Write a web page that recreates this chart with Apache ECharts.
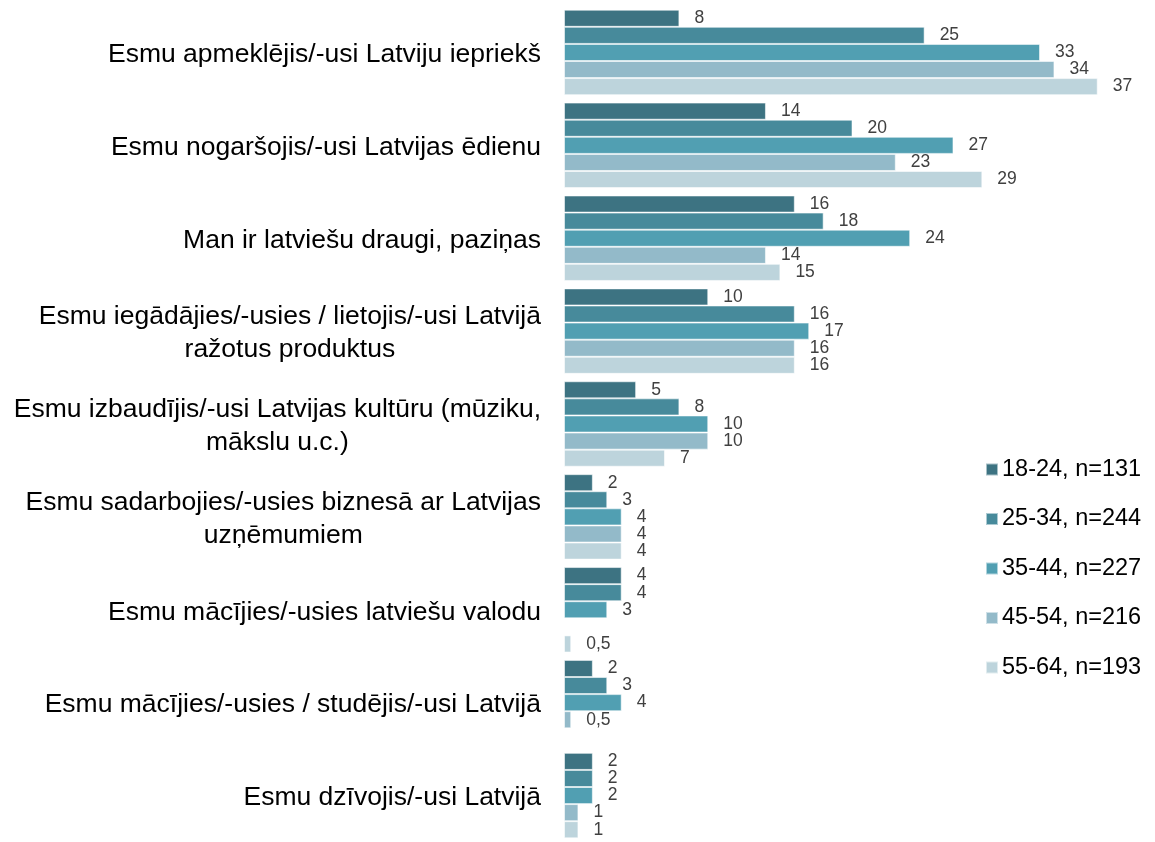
<!DOCTYPE html>
<html>
<head>
<meta charset="utf-8">
<style>
  html, body { margin: 0; padding: 0; background: #ffffff; }
  #chart { width: 1155px; height: 842px; }
</style>
<script src="https://cdn.jsdelivr.net/npm/echarts@6/dist/echarts.min.js"></script>
</head>
<body>
<div id="chart"></div>
<script>
// Categories, top to bottom
const categories = [
  'Esmu apmeklējis/-usi Latviju iepriekš',
  'Esmu nogaršojis/-usi Latvijas ēdienu',
  'Man ir latviešu draugi, paziņas',
  'Esmu iegādājies/-usies / lietojis/-usi Latvijā\nražotus produktus',
  'Esmu izbaudījis/-usi Latvijas kultūru (mūziku,\nmākslu u.c.)',
  'Esmu sadarbojies/-usies biznesā ar Latvijas\nuzņēmumiem',
  'Esmu mācījies/-usies latviešu valodu',
  'Esmu mācījies/-usies / studējis/-usi Latvijā',
  'Esmu dzīvojis/-usi Latvijā'
];

// Age groups
const seriesNames = ['18-24, n=131', '25-34, n=244', '35-44, n=227', '45-54, n=216', '55-64, n=193'];

// Values (%) per age group, in category order; null = no bar
const age18_24 = [8, 14, 16, 10, 5, 2, 4, 2, 2];
const age25_34 = [25, 20, 18, 16, 8, 3, 4, 3, 2];
const age35_44 = [33, 27, 24, 17, 10, 4, 3, 4, 2];
const age45_54 = [34, 23, 14, 16, 10, 4, null, 0.5, 1];
const age55_64 = [37, 29, 15, 16, 7, 4, 0.5, null, 1];

const colors = ['#3d7382', '#478a9b', '#519fb2', '#93bac9', '#bdd4dc'];
const seriesData = [age18_24, age25_34, age35_44, age45_54, age55_64];

const FONT = '"Liberation Sans", Arial, Helvetica, sans-serif';

const chart = echarts.init(document.getElementById('chart'), null, { renderer: 'canvas' });

chart.setOption({
  backgroundColor: '#ffffff',
  animation: false,
  color: colors,
  textStyle: { fontFamily: FONT },
  grid: { left: 564, top: 6, width: 577, height: 841, containLabel: false },
  legend: {
    orient: 'vertical',
    left: 985,
    top: 457.5,
    padding: 0,
    icon: 'rect',
    itemWidth: 12,
    itemHeight: 12,
    itemGap: 25.5,
    textStyle: { fontSize: 23.5, color: '#000000', fontFamily: FONT, padding: [0, 0, 0, -1] },
    data: seriesNames
  },
  xAxis: {
    type: 'value',
    min: 0,
    max: 40,
    show: false
  },
  yAxis: {
    type: 'category',
    inverse: true,
    data: categories,
    axisLine: { show: false },
    axisTick: { show: false },
    splitLine: { show: false },
    axisLabel: {
      margin: 23,
      color: '#000000',
      fontSize: 26.5,
      fontFamily: FONT,
      lineHeight: 33,
      align: 'right',
      padding: [5, 0, 0, 0],
      formatter: function (v) {
        return v.split('\n').map(function (line) { return '{c|' + line + '}'; }).join('\n');
      },
      rich: {
        c: { align: 'center', fontSize: 26.5, lineHeight: 33, color: '#000000', fontFamily: FONT }
      }
    }
  },
  series: seriesNames.map(function (name, i) {
    return {
      name: name,
      type: 'bar',
      data: seriesData[i],
      barGap: '0%',
      barCategoryGap: '8%',
      itemStyle: {
        color: colors[i],
        borderColor: 'rgba(255,255,255,0.55)',
        borderWidth: 1
      },
      label: {
        show: true,
        position: 'right',
        distance: 15,
        color: '#404040',
        fontSize: 17.5,
        fontFamily: FONT,
        formatter: function (p) {
          return p.value == null ? '' : String(p.value).replace('.', ',');
        }
      }
    };
  })
});
</script>
</body>
</html>
